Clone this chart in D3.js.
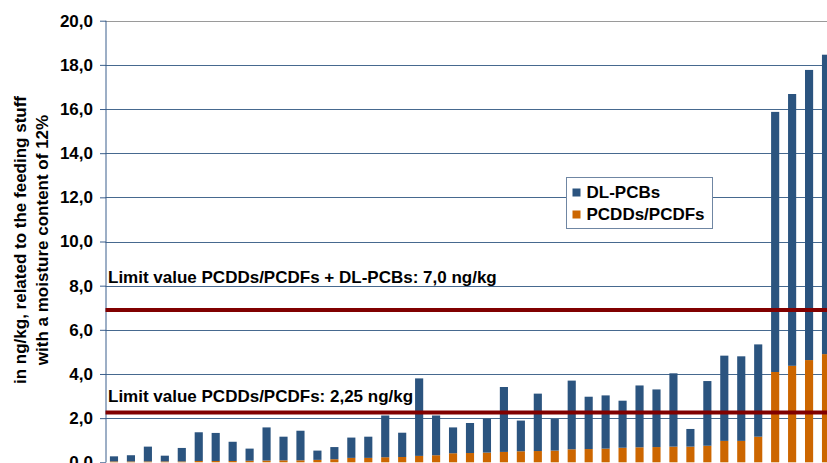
<!DOCTYPE html>
<html>
<head>
<meta charset="utf-8">
<script src="https://cdn.jsdelivr.net/npm/d3@7"></script>
<style>
  html, body { margin: 0; padding: 0; background: #fff; }
  svg { display: block; }
  text { font-family: "Liberation Sans", Arial, sans-serif; font-weight: bold; fill: #000; }
</style>
</head>
<body>
<svg id="chart" width="827" height="463"></svg>
<script>
// ---- data ----
const samples = d3.range(1, 44).map(String);
const pcddPcdf = [0.04,0.04,0.04,0.04,0.04,0.06,0.06,0.06,0.07,0.08,0.09,0.09,0.11,0.14,0.20,0.20,0.23,0.24,0.29,0.32,0.41,0.42,0.44,0.47,0.50,0.51,0.53,0.59,0.60,0.62,0.66,0.68,0.69,0.71,0.71,0.75,0.97,0.97,1.16,4.09,4.37,4.63,4.90];
const dlPcb = [0.23,0.28,0.67,0.26,0.61,1.30,1.27,0.87,0.55,1.50,1.07,1.34,0.42,0.55,0.92,0.96,1.89,1.10,3.51,1.80,1.17,1.36,1.54,2.94,1.39,2.60,1.43,3.11,2.37,2.41,2.13,2.80,2.61,3.32,0.80,2.93,3.86,3.83,4.18,11.78,12.31,13.14,13.56];
const yTicks = [0,2,4,6,8,10,12,14,16,18,20];
const limitValues = [6.9, 2.25];
const limitLabels = ["Limit value PCDDs/PCDFs + DL-PCBs: 7,0 ng/kg", "Limit value PCDDs/PCDFs: 2,25 ng/kg"];
const seriesNames = ["PCDDs/PCDFs", "DL-PCBs"];
const legendOrder = ["DL-PCBs", "PCDDs/PCDFs"];
const colors = {"PCDDs/PCDFs": "#cc6600", "DL-PCBs": "#2b547f"};
const axisTitle = ["in ng/kg, related to the feeding stuff", "with a moisture content of 12%"];

// ---- layout ----
const labelOffsets = [27, 11];
const svg = d3.select("#chart");
const x0 = 105.5, x1 = 834.5;
const y = d3.scaleLinear().domain([0, 20]).range([462.3, 20.7]);
const x = d3.scaleBand().domain(samples).range([x0, x1]).paddingInner(0.52).paddingOuter(0.26);

const table = samples.map((s, i) => ({sample: s, "PCDDs/PCDFs": pcddPcdf[i], "DL-PCBs": dlPcb[i]}));
const stacked = d3.stack().keys(seriesNames)(table);

// gridlines
svg.append("g").selectAll("line").data(yTicks.filter(d => d > 0)).join("line")
  .attr("x1", x0).attr("x2", 827)
  .attr("y1", d => Math.round(y(d)) + 0.5).attr("y2", d => Math.round(y(d)) + 0.5)
  .attr("stroke", d => d === 20 ? "#9a9a9a" : "#46698f").attr("stroke-width", 1);

// y axis
const yAxis = d3.axisLeft(y).tickValues(yTicks).tickSize(6).tickPadding(7)
  .tickFormat(d => d3.format(".1f")(d).replace(".", ","));
const ga = svg.append("g").attr("transform", `translate(${x0 + 0.5},0)`).call(yAxis);
ga.select(".domain").attr("stroke", "#3b5f8c").attr("d", `M0,${y(20)}V${y(0)}`);
ga.selectAll(".tick line").attr("stroke", "#3b5f8c");
ga.selectAll(".tick text").attr("font-size", 17).attr("font-family", "Liberation Sans, Arial, sans-serif")
  .attr("font-weight", "bold").attr("fill", "#000");

// bars
svg.append("g").selectAll("g").data(stacked).join("g")
  .attr("fill", d => colors[d.key])
  .selectAll("rect").data(d => d).join("rect")
  .attr("x", d => x(d.data.sample))
  .attr("width", x.bandwidth())
  .attr("y", d => y(d[1]))
  .attr("height", d => y(d[0]) - y(d[1]));

// limit lines
svg.append("g").selectAll("line").data(limitValues).join("line")
  .attr("x1", x0).attr("x2", 827)
  .attr("y1", d => y(d)).attr("y2", d => y(d))
  .attr("stroke", "#800000").attr("stroke-width", 4);

svg.append("g").selectAll("text").data(limitValues).join("text")
  .attr("x", 108).attr("y", (d, i) => y(d) - labelOffsets[i])
  .attr("font-size", 17)
  .text((d, i) => limitLabels[i]);

// legend
const lg = svg.append("g").attr("transform", "translate(566.5,177.5)");
lg.append("rect").attr("width", 146).attr("height", 51).attr("fill", "#fff").attr("stroke", "#6f86a3");
lg.selectAll("rect.sw").data(legendOrder).join("rect").attr("class", "sw")
  .attr("x", 6).attr("y", (d, i) => 11 + i * 22).attr("width", 8).attr("height", 8)
  .attr("fill", d => colors[d]);
lg.selectAll("text").data(legendOrder).join("text")
  .attr("x", 20).attr("y", (d, i) => 15 + i * 22).attr("dy", "0.35em")
  .attr("font-size", 17).text(d => d);

// axis title
svg.append("g").selectAll("text").data(axisTitle).join("text")
  .attr("transform", (d, i) => `translate(${20 + i * 22.5},240) rotate(-90)`)
  .attr("text-anchor", "middle").attr("dy", "0.35em")
  .attr("font-size", 17).text(d => d);
</script>
</body>
</html>
